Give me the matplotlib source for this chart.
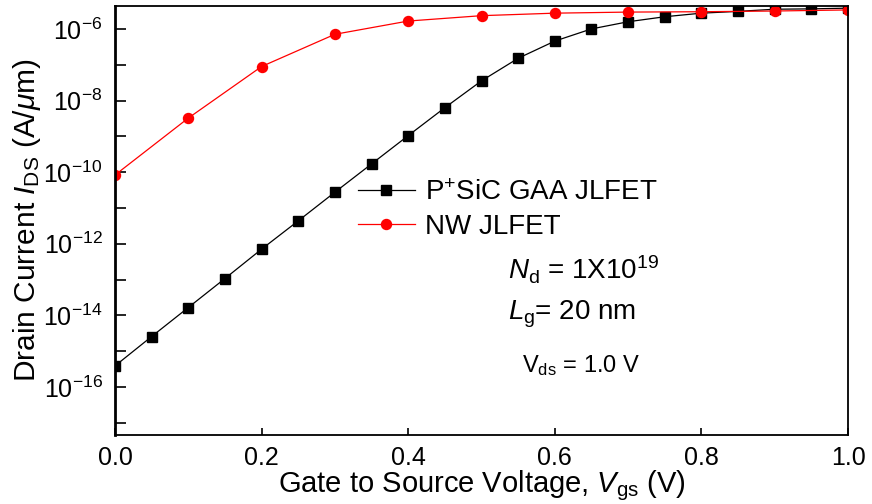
import numpy as np
import matplotlib
matplotlib.use("Agg")
import matplotlib.pyplot as plt
from matplotlib.ticker import NullFormatter, FixedLocator

plt.rcParams['font.family'] = ['Liberation Sans', 'DejaVu Sans']
plt.rcParams['mathtext.fontset'] = 'custom'
plt.rcParams['mathtext.rm'] = 'Liberation Sans'
plt.rcParams['mathtext.it'] = 'Liberation Sans:italic'

# P+ SiC GAA JLFET, Vgs step 0.05 V
vgs_sic = np.round(np.arange(0, 1.0001, 0.05), 2)
log_ids_sic = [-15.41, -14.59, -13.78, -12.97, -12.15, -11.36, -10.56, -9.77, -8.98, -8.20,
               -7.45, -6.82, -6.34, -6.00, -5.80, -5.66, -5.56, -5.51, -5.45, -5.44, -5.42]

# NW JLFET, Vgs step 0.1 V
vgs_nw = np.round(np.arange(0, 1.0001, 0.1), 2)
log_ids_nw = [-10.08, -8.49, -7.05, -6.15, -5.78, -5.63, -5.56, -5.53, -5.52, -5.50, -5.47]

ids_sic = 10.0 ** np.array(log_ids_sic)
ids_nw = 10.0 ** np.array(log_ids_nw)

W, H = 872, 504
fig = plt.figure(figsize=(W / 100, H / 100), dpi=100)
ax = fig.add_axes([115 / W, 1 - 435 / H, (848 - 115) / W, (435 - 6) / H])

ax.plot(vgs_sic, ids_sic, color='black', lw=0.9, marker='s', ms=6.8, label='P$^{+}$SiC GAA JLFET')
ax.plot(vgs_nw, ids_nw, color='red', lw=0.9, marker='o', ms=7.2, label='NW JLFET')

ax.set_yscale('log')
ax.set_xlim(0, 1.0)
ax.set_ylim(10 ** -17.34, 10 ** -5.36)
ax.set_xticks([0.0, 0.2, 0.4, 0.6, 0.8, 1.0])
ax.set_xticklabels(['0.0', '0.2', '0.4', '0.6', '0.8', '1.0'])
ax.xaxis.set_minor_locator(FixedLocator([]))
major = [10.0 ** e for e in range(-16, -5, 2)]
minor = [10.0 ** e for e in range(-17, -5, 2)]
ax.yaxis.set_major_locator(FixedLocator(major))
ax.yaxis.set_minor_locator(FixedLocator(minor))
ax.yaxis.set_minor_formatter(NullFormatter())
ax.set_yticklabels(['10$^{%d}$' % e for e in range(-16, -5, 2)])
ax.tick_params(axis='y', which='both', direction='in', length=8, width=1.2, labelsize=18, pad=9)
ax.tick_params(axis='x', which='both', direction='in', length=5, width=1.2, labelsize=18, pad=8)
for s in ax.spines.values():
    s.set_linewidth(1.3)
ax.spines['left'].set_linewidth(2)

ax.set_xlabel('Gate to Source Voltage, $V_{\\rm gs}$ (V)', fontsize=21, labelpad=-1)
ax.set_ylabel('Drain Current $I_{\\rm DS}$ (A/$\\mu$m)', fontsize=21.5, labelpad=0)

ax.legend(loc='center left', bbox_to_anchor=(358 / W, 1 - 210 / H), bbox_transform=fig.transFigure,
          frameon=False, fontsize=20, borderpad=0, borderaxespad=0,
          handlelength=2.05, handletextpad=0.36, labelspacing=0.3)

fig.text(508 / W, 1 - 270 / H, '$N_{\\rm d}$ = 1X10$^{19}$', fontsize=20, va='center')
fig.text(508 / W, 1 - 314 / H, '$L_{\\rm g}$= 20 nm', fontsize=20, va='center')
fig.text(522 / W, 1 - 366 / H, 'V$_{\\rm ds}$ = 1.0 V', fontsize=17, va='center')

fig.savefig('out.png', dpi=100)
